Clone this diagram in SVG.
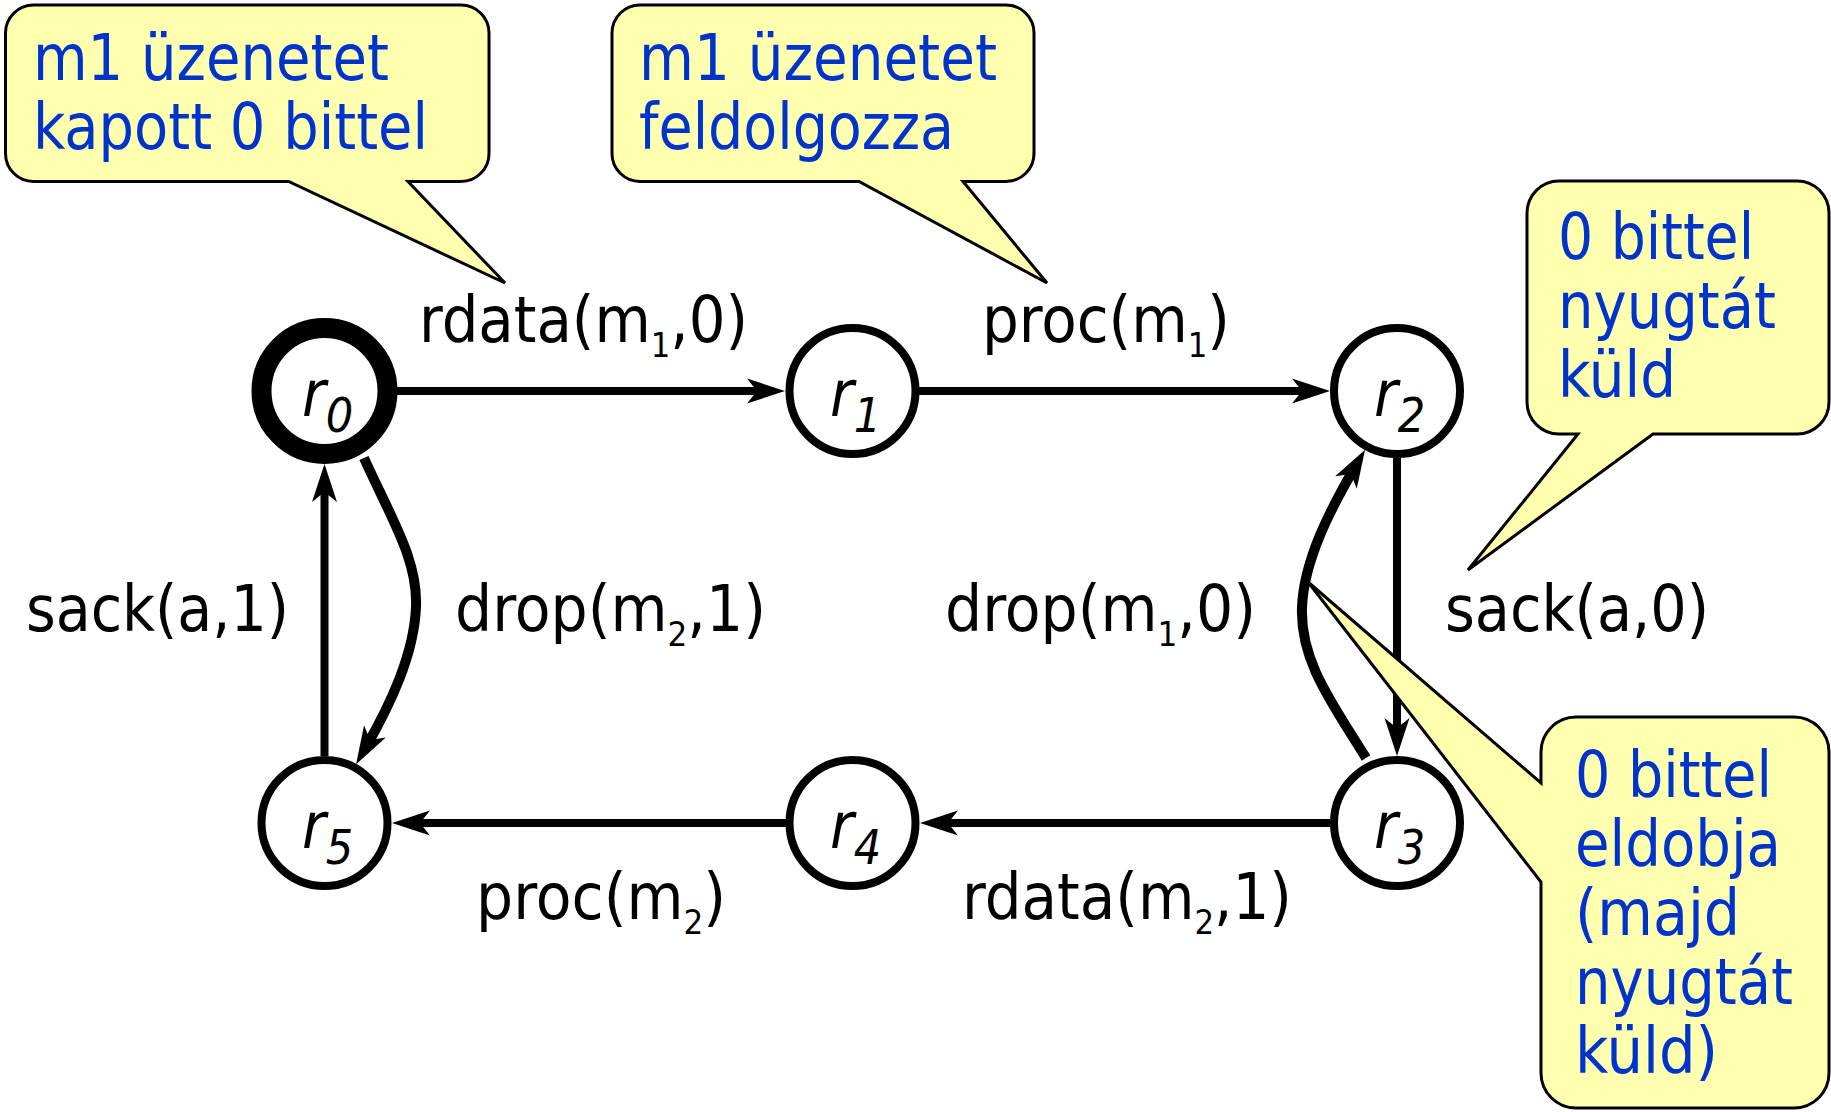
<svg xmlns="http://www.w3.org/2000/svg" width="1831" height="1112" viewBox="0 0 1831 1112">
  <style>
    text { font-family: "DejaVu Sans Condensed", "DejaVu Sans", sans-serif; }
    .lbl { font-size: 64px; fill: #000; }
    .sub { font-size: 34px; }
    .note { font-size: 64px; fill: #0033cc; }
    .bubble { fill: #ffffb0; stroke: #000; stroke-width: 3; stroke-linejoin: miter; }
    .state { fill: #fff; stroke: #000; stroke-width: 8; }
    .state.init { stroke-width: 20; }
    .name { font-size: 64px; font-style: italic; fill: #000; }
    .name .idx { font-size: 48px; }
    .edge { fill: none; stroke: #000; stroke-width: 8; marker-end: url(#head); }
    .edge.bent { stroke-width: 10; }
  </style>
  <defs>
    <marker id="head" markerUnits="userSpaceOnUse" viewBox="-20 -14 42 28" refX="0" refY="0" markerWidth="42" markerHeight="28" orient="auto" overflow="visible">
      <path d="M20,0 L-18,-12.5 L-8,0 L-18,12.5 Z" fill="#000"/>
    </marker>
  </defs>

  <rect width="1831" height="1112" fill="#fff"/>

  <!-- transitions -->
  <g id="connectors">
    <path class="edge" d="M397,391 H765"/>
    <path class="edge" d="M916,391 H1310"/>
    <path class="edge" d="M1397,458 V736"/>
    <path class="edge" d="M1330,823 H940"/>
    <path class="edge" d="M786,823 H412"/>
    <path class="edge" d="M324.5,756 V484"/>
    <path class="edge bent" d="M364,458 C392,520 418,560 416,607 C414,655 390,705 366,747"/>
    <path class="edge bent" d="M1366,758 C1330,700 1300,660 1302,607 C1304,560 1330,510 1355,467"/>
  </g>

  <!-- transition labels -->
  <g id="labels">
    <text class="lbl" x="419" y="342" textLength="329" lengthAdjust="spacingAndGlyphs">rdata(m<tspan class="sub" dy="15">1</tspan><tspan dy="-15">,0)</tspan></text>
    <text class="lbl" x="982" y="342" textLength="248" lengthAdjust="spacingAndGlyphs">proc(m<tspan class="sub" dy="15">1</tspan><tspan dy="-15">)</tspan></text>
    <text class="lbl" x="26" y="631" textLength="263" lengthAdjust="spacingAndGlyphs">sack(a,1)</text>
    <text class="lbl" x="455" y="631" textLength="311" lengthAdjust="spacingAndGlyphs">drop(m<tspan class="sub" dy="15">2</tspan><tspan dy="-15">,1)</tspan></text>
    <text class="lbl" x="945" y="631" textLength="311" lengthAdjust="spacingAndGlyphs">drop(m<tspan class="sub" dy="15">1</tspan><tspan dy="-15">,0)</tspan></text>
    <text class="lbl" x="1445" y="631" textLength="264" lengthAdjust="spacingAndGlyphs">sack(a,0)</text>
    <text class="lbl" x="476" y="919" textLength="250" lengthAdjust="spacingAndGlyphs">proc(m<tspan class="sub" dy="15">2</tspan><tspan dy="-15">)</tspan></text>
    <text class="lbl" x="962" y="919" textLength="330" lengthAdjust="spacingAndGlyphs">rdata(m<tspan class="sub" dy="15">2</tspan><tspan dy="-15">,1)</tspan></text>
  </g>

  <!-- states -->
  <g id="r0">
    <circle class="state init" cx="324.5" cy="391" r="63"/>
    <text class="name" x="302" y="416">r<tspan class="idx" dy="16">0</tspan></text>
  </g>
  <g id="r1">
    <circle class="state" cx="852.5" cy="391" r="63"/>
    <text class="name" x="830" y="416">r<tspan class="idx" dy="16">1</tspan></text>
  </g>
  <g id="r2">
    <circle class="state" cx="1397" cy="391" r="63"/>
    <text class="name" x="1374" y="416">r<tspan class="idx" dy="16">2</tspan></text>
  </g>
  <g id="r3">
    <circle class="state" cx="1397" cy="823" r="63"/>
    <text class="name" x="1374" y="848">r<tspan class="idx" dy="16">3</tspan></text>
  </g>
  <g id="r4">
    <circle class="state" cx="852.5" cy="823" r="63"/>
    <text class="name" x="830" y="848">r<tspan class="idx" dy="16">4</tspan></text>
  </g>
  <g id="r5">
    <circle class="state" cx="324.5" cy="823" r="63"/>
    <text class="name" x="302" y="848">r<tspan class="idx" dy="16">5</tspan></text>
  </g>

  <!-- comment bubbles -->
  <g id="note-received">
    <path class="bubble" d="M33.5,5 H461 A28,28 0 0 1 489,33 V153.5 A28,28 0 0 1 461,181.5 H408 L505,283 L288.6,181.5 H33.5 A28,28 0 0 1 5.5,153.5 V33 A28,28 0 0 1 33.5,5 Z"/>
    <text class="note" x="33" y="80" textLength="356" lengthAdjust="spacingAndGlyphs">m1 üzenetet</text>
    <text class="note" x="33" y="149" textLength="395" lengthAdjust="spacingAndGlyphs">kapott 0 bittel</text>
  </g>
  <g id="note-process">
    <path class="bubble" d="M640,5 H1006 A28,28 0 0 1 1034,33 V153.5 A28,28 0 0 1 1006,181.5 H963 L1047,283 L859,181.5 H640 A28,28 0 0 1 612,153.5 V33 A28,28 0 0 1 640,5 Z"/>
    <text class="note" x="639" y="80" textLength="358" lengthAdjust="spacingAndGlyphs">m1 üzenetet</text>
    <text class="note" x="639" y="149" textLength="315" lengthAdjust="spacingAndGlyphs">feldolgozza</text>
  </g>
  <g id="note-ack">
    <path class="bubble" d="M1559,181 H1797 A32,32 0 0 1 1829,213 V402 A32,32 0 0 1 1797,434 H1653 L1468,570 L1578,434 H1559 A32,32 0 0 1 1527,402 V213 A32,32 0 0 1 1559,181 Z"/>
    <text class="note" x="1558" y="259" textLength="196" lengthAdjust="spacingAndGlyphs">0 bittel</text>
    <text class="note" x="1558" y="328" textLength="218" lengthAdjust="spacingAndGlyphs">nyugtát</text>
    <text class="note" x="1558" y="397" textLength="118" lengthAdjust="spacingAndGlyphs">küld</text>
  </g>
  <g id="note-drop">
    <path class="bubble" d="M1576,717 H1794 A35,35 0 0 1 1829,752 V1073 A35,35 0 0 1 1794,1108 H1576 A35,35 0 0 1 1541,1073 V882 L1308,582 L1541,783 V752 A35,35 0 0 1 1576,717 Z"/>
    <text class="note" x="1575" y="797" textLength="197" lengthAdjust="spacingAndGlyphs">0 bittel</text>
    <text class="note" x="1575" y="866" textLength="206" lengthAdjust="spacingAndGlyphs">eldobja</text>
    <text class="note" x="1575" y="935" textLength="165" lengthAdjust="spacingAndGlyphs">(majd</text>
    <text class="note" x="1575" y="1004" textLength="218" lengthAdjust="spacingAndGlyphs">nyugtát</text>
    <text class="note" x="1575" y="1073" textLength="143" lengthAdjust="spacingAndGlyphs">küld)</text>
  </g>
</svg>
